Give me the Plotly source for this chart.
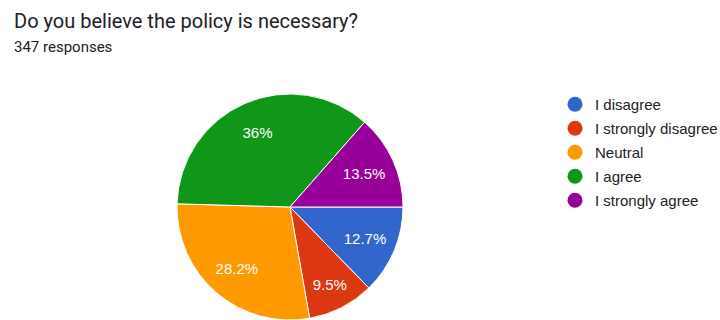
import plotly.graph_objects as go

# Survey answers, in the order the slices are drawn (clockwise from 3 o'clock)
labels = ["I disagree", "I strongly disagree", "Neutral", "I agree", "I strongly agree"]
shares = [12.7, 9.5, 28.2, 36, 13.5]  # percent of responses
colors = ["#3366cc", "#dc3912", "#ff9900", "#109618", "#990099"]

question = "Do you believe the policy is necessary?"
responses = "347 responses"

W, H = 720, 320
cx, cy, r = 290, 207, 113  # pie centre and radius in pixels
domain = dict(x=[(cx - r) / W, (cx + r) / W], y=[(H - cy - r) / H, (H - cy + r) / H])

fig = go.Figure()

# Solid pie
fig.add_trace(go.Pie(
    labels=labels, values=shares, sort=False,
    direction="clockwise", rotation=90,
    marker=dict(colors=colors, line=dict(color="white", width=1)),
    textinfo="none", hoverinfo="label+percent",
    showlegend=False, domain=domain,
))

# Transparent ring over the same slices: it only carries the percentages,
# which then sit out toward the rim
fig.add_trace(go.Pie(
    labels=labels, values=shares, sort=False,
    direction="clockwise", rotation=90, hole=0.44,
    marker=dict(colors=["rgba(0,0,0,0)"] * len(labels), line=dict(width=0)),
    texttemplate="%{value}%", textposition="inside",
    insidetextorientation="horizontal",
    textfont=dict(family="Arial", size=15, color="white"),
    hoverinfo="label+percent",
    showlegend=False, domain=domain,
))

# Legend entries with round swatches
for i, (lab, col) in enumerate(zip(labels, colors)):
    fig.add_trace(go.Scatter(
        x=[None], y=[None], mode="markers", name=lab,
        legendgroup=f"g{i}",
        marker=dict(symbol="circle", size=15, color=col),
    ))

fig.add_annotation(text=question, x=12 / W, y=1 - 20.5 / H, xref="paper", yref="paper",
                   xanchor="left", yanchor="middle", showarrow=False,
                   font=dict(family="Roboto", size=20, color="#202124"))
fig.add_annotation(text=responses, x=12 / W, y=1 - 47 / H, xref="paper", yref="paper",
                   xanchor="left", yanchor="middle", showarrow=False,
                   font=dict(family="Roboto", size=15, color="#202124"))

fig.update_layout(
    width=W, height=H,
    margin=dict(l=0, r=0, t=0, b=0, autoexpand=False),
    paper_bgcolor="white", plot_bgcolor="white",
    xaxis=dict(visible=False), yaxis=dict(visible=False),
    legend=dict(x=555 / W, xanchor="left", y=1 - 88 / H, yanchor="top",
                font=dict(family="Arial", size=15, color="#222222"),
                tracegroupgap=1.5, bgcolor="rgba(0,0,0,0)"),
)

fig.write_html("out.html")
